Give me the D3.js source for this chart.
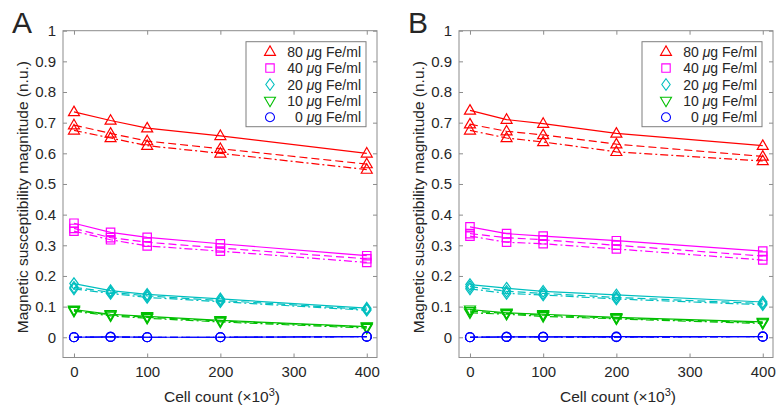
<!DOCTYPE html>
<html>
<head>
<meta charset="utf-8">
<script src="https://cdn.jsdelivr.net/npm/d3@7"></script>
<style>
  body { margin: 0; background: #fff; }
  text { font-family: "Liberation Sans", Arial, Helvetica, sans-serif; fill: #262626; }
</style>
</head>
<body>
<script>
// x positions (cell count, x10^3)
var cellCounts = [0, 50, 100, 200, 400];
var xTicks = [0, 100, 200, 300, 400];
var yTicks = [0, 0.1, 0.2, 0.3, 0.4, 0.5, 0.6, 0.7, 0.8, 0.9, 1];

var concLabels = ["80", "40", "20", "10", "0"];
var concColors = ["#ff0000", "#ff00ff", "#00bfbf", "#00bf00", "#0000ff"];
var concMarkers = ["triUp", "square", "diamond", "triDown", "circle"];
var lineStyles = ["solid", "dashed", "dashdot"];

// panel A: [solid, dashed, dash-dot] per concentration
var panelA = [
    [[0.735, 0.707, 0.682, 0.657, 0.600], [0.692, 0.665, 0.640, 0.615, 0.565], [0.675, 0.650, 0.625, 0.600, 0.547]],
    [[0.372, 0.342, 0.326, 0.305, 0.266], [0.355, 0.325, 0.310, 0.291, 0.256], [0.346, 0.318, 0.298, 0.281, 0.244]],
    [[0.175, 0.152, 0.140, 0.125, 0.095], [0.163, 0.147, 0.135, 0.120, 0.091], [0.158, 0.143, 0.130, 0.116, 0.088]],
    [[0.090, 0.075, 0.068, 0.055, 0.035], [0.088, 0.073, 0.065, 0.053, 0.033], [0.085, 0.070, 0.062, 0.050, 0.030]],
    [[0.000, 0.001, 0.000, 0.000, 0.002], [0.000, 0.001, 0.000, 0.000, 0.002], [0.000, 0.001, 0.000, 0.000, 0.002]]
];

// panel B
var panelB = [
    [[0.740, 0.710, 0.697, 0.665, 0.625], [0.695, 0.672, 0.660, 0.630, 0.590], [0.675, 0.650, 0.637, 0.605, 0.575]],
    [[0.360, 0.338, 0.330, 0.315, 0.281], [0.338, 0.325, 0.318, 0.300, 0.265], [0.330, 0.310, 0.305, 0.288, 0.252]],
    [[0.172, 0.160, 0.150, 0.138, 0.115], [0.165, 0.150, 0.143, 0.130, 0.110], [0.158, 0.143, 0.138, 0.125, 0.106]],
    [[0.090, 0.080, 0.075, 0.065, 0.050], [0.085, 0.078, 0.072, 0.062, 0.048], [0.080, 0.075, 0.068, 0.060, 0.045]],
    [[0.000, 0.001, 0.001, 0.002, 0.002], [0.000, 0.001, 0.001, 0.001, 0.002], [0.000, 0.001, 0.001, 0.000, 0.002]]
];

var width = 778, height = 414;

var svg = d3.select("body").append("svg")
    .attr("width", width)
    .attr("height", height);

function markerPath(type) {
    if (type == "triUp") return "M0,-5.8L5.5,3.7L-5.5,3.7Z";
    if (type == "triDown") return "M0,5.8L5.5,-3.7L-5.5,-3.7Z";
    if (type == "square") return "M-4.2,-4.2H4.2V4.2H-4.2Z";
    if (type == "diamond") return "M0,-5.8L4.2,0L0,5.8L-4.2,0Z";
    return "M4.5,0A4.5,4.5 0 1,1 -4.5,0A4.5,4.5 0 1,1 4.5,0Z";
}

function dashOf(style) {
    if (style == "dashed") return "8,4";
    if (style == "dashdot") return "8,3,2,3";
    return null;
}

function drawPanel(left, letter, data) {
    var top = 30.7, bottom = 357.5, w = 314;
    var x = d3.scaleLinear().domain([-15, 414]).range([left, left + w]);
    var y = d3.scaleLinear().domain([-0.066, 1]).range([bottom, top]);

    var g = svg.append("g");

    // box
    g.append("rect")
        .attr("x", left).attr("y", top)
        .attr("width", w).attr("height", bottom - top)
        .attr("fill", "none")
        .attr("stroke", "#8c8c8c")
        .attr("stroke-width", 1);

    // axes (ticks inward, on all four sides)
    var xb = g.append("g").attr("transform", "translate(0," + bottom + ")")
        .call(d3.axisBottom(x).tickValues(xTicks).tickSizeInner(-4).tickSizeOuter(0).tickPadding(9));
    var xt = g.append("g").attr("transform", "translate(0," + top + ")")
        .call(d3.axisTop(x).tickValues(xTicks).tickSizeInner(-4).tickSizeOuter(0).tickFormat(""));
    var yl = g.append("g").attr("transform", "translate(" + left + ",0)")
        .call(d3.axisLeft(y).tickValues(yTicks).tickSizeInner(-4).tickSizeOuter(0).tickPadding(7)
            .tickFormat(function(d) { return d == 0 || d == 1 ? d3.format("d")(d) : d3.format(".1f")(d); }));
    var yr = g.append("g").attr("transform", "translate(" + (left + w) + ",0)")
        .call(d3.axisRight(y).tickValues(yTicks).tickSizeInner(-4).tickSizeOuter(0).tickFormat(""));

    [xb, xt, yl, yr].forEach(function(a) {
        a.select(".domain").remove();
        a.selectAll(".tick line").attr("stroke", "#8c8c8c");
        a.selectAll("text").attr("font-size", 15).attr("fill", "#262626")
            .style("font-family", "'Liberation Sans', Arial, sans-serif");
    });

    // series
    var line = d3.line()
        .x(function(d, i) { return x(cellCounts[i]); })
        .y(function(d) { return y(d); });

    data.forEach(function(group, ci) {
        group.forEach(function(vals, li) {
            g.append("path")
                .datum(vals)
                .attr("d", line)
                .attr("fill", "none")
                .attr("stroke", concColors[ci])
                .attr("stroke-width", 1.2)
                .attr("stroke-dasharray", dashOf(lineStyles[li]));
            g.selectAll(null)
                .data(vals)
                .enter()
                .append("path")
                .attr("transform", function(d, i) { return "translate(" + x(cellCounts[i]) + "," + y(d) + ")"; })
                .attr("d", markerPath(concMarkers[ci]))
                .attr("fill", "none")
                .attr("stroke", concColors[ci])
                .attr("stroke-width", 1.2);
        });
    });

    // legend
    var lgRight = left + w - 11, lgLeft = lgRight - 120, lgTop = 41.7;
    var lg = g.append("g");
    lg.append("rect")
        .attr("x", lgLeft).attr("y", lgTop)
        .attr("width", 120).attr("height", 85)
        .attr("fill", "#fff")
        .attr("stroke", "#7f7f7f")
        .attr("stroke-width", 1);
    concLabels.forEach(function(c, i) {
        var yy = lgTop + 10 + i * 16.4;
        lg.append("path")
            .attr("transform", "translate(" + (lgLeft + 24) + "," + yy + ")")
            .attr("d", markerPath(concMarkers[i]))
            .attr("fill", "none")
            .attr("stroke", concColors[i])
            .attr("stroke-width", 1.1);
        var t = lg.append("text")
            .attr("x", lgRight - 5).attr("y", yy + 5)
            .attr("text-anchor", "end")
            .attr("font-size", 14);
        t.append("tspan").text(c + " ");
        t.append("tspan").attr("font-style", "italic").text("\u03bc");
        t.append("tspan").text("g Fe/ml");
    });

    // axis labels
    var xl = g.append("text")
        .attr("x", left + w / 2 + 2).attr("y", 402)
        .attr("text-anchor", "middle")
        .attr("font-size", 15.5);
    xl.append("tspan").text("Cell count (\u00d710");
    xl.append("tspan").attr("dy", -6).attr("font-size", 11).text("3");
    xl.append("tspan").attr("dy", 6).text(")");

    g.append("text")
        .attr("transform", "translate(" + (left - 35) + "," + ((top + bottom) / 2 + 3) + ") rotate(-90)")
        .attr("text-anchor", "middle")
        .attr("font-size", 15.5)
        .text("Magnetic susceptibility magnitude (n.u.)");

    g.append("text")
        .attr("x", left - 51).attr("y", 33)
        .attr("font-size", 30)
        .text(letter);
}

drawPanel(63, "A", panelA);
drawPanel(459, "B", panelB);
</script>
</body>
</html>
